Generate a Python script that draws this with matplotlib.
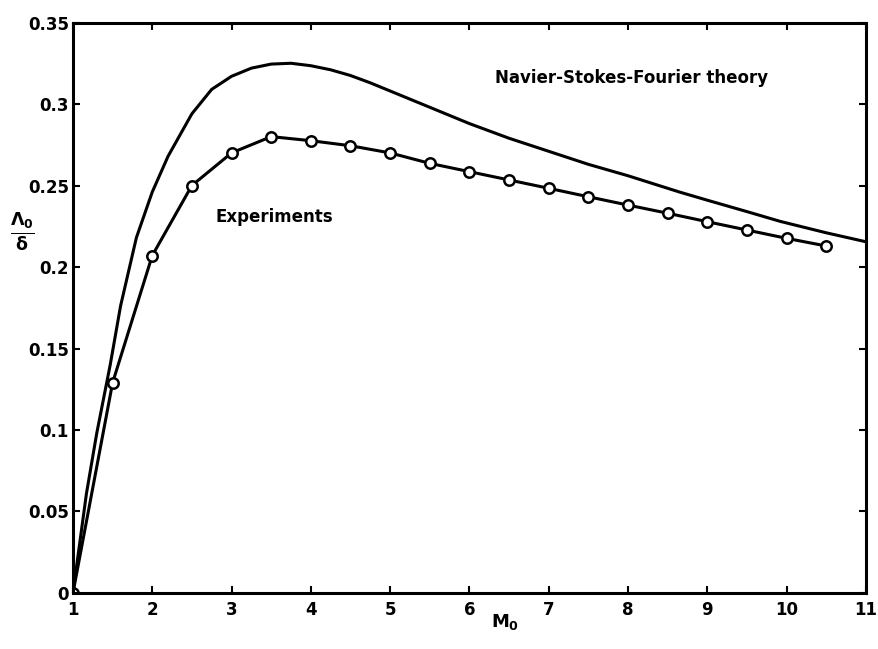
import matplotlib.pyplot as plt

plt.rcParams['font.family'] = ['DejaVu Sans']
plt.rcParams['font.weight'] = 'bold'
plt.rcParams['mathtext.fontset'] = 'custom'
plt.rcParams['mathtext.rm'] = 'DejaVu Sans:bold'
plt.rcParams['mathtext.it'] = 'DejaVu Sans:bold'
plt.rcParams['mathtext.bf'] = 'DejaVu Sans:bold'

# experiments (circles)
mach_exp = [1, 1.5, 2, 2.5, 3, 3.5, 4, 4.5, 5, 5.5, 6, 6.5, 7, 7.5, 8, 8.5, 9, 9.5, 10, 10.5]
lam_exp = [0, 0.129, 0.207, 0.250, 0.270, 0.280, 0.2775, 0.2744, 0.270, 0.2636, 0.2585,
           0.2534, 0.2483, 0.2431, 0.238, 0.233, 0.2278, 0.2227, 0.2176, 0.2129]

# Navier-Stokes-Fourier theory (solid line)
mach_nsf = [1.0, 1.17, 1.3, 1.47, 1.6, 1.8, 2.0, 2.2, 2.5, 2.75, 3.0, 3.25, 3.5, 3.75,
            4.0, 4.25, 4.5, 4.75, 5.0, 5.5, 6.0, 6.5, 7.0, 7.5, 8.0, 8.65, 9.0, 9.5,
            9.92, 10.5, 11.0]
lam_nsf = [0, 0.061, 0.098, 0.140, 0.176, 0.218, 0.246, 0.268, 0.294, 0.309, 0.317,
           0.322, 0.3245, 0.325, 0.3235, 0.321, 0.3175, 0.313, 0.308, 0.298, 0.288,
           0.279, 0.271, 0.263, 0.256, 0.246, 0.241, 0.234, 0.228, 0.221, 0.2155]

xticks = [1, 2, 3, 4, 5, 6, 7, 8, 9, 10, 11]
yticks = [0, 0.05, 0.1, 0.15, 0.2, 0.25, 0.3, 0.35]
ytick_labels = ["0", "0.05", "0.1", "0.15", "0.2", "0.25", "0.3", "0.35"]

fig = plt.figure(figsize=(8.79, 6.49), dpi=100)
ax = fig.add_axes([0.083, 0.0863, 0.902, 0.879])

ax.plot(mach_nsf, lam_nsf, color="black", lw=2.2)
ax.plot(mach_exp, lam_exp, color="black", lw=2.2, marker="o", markersize=7.5,
        markerfacecolor="white", markeredgecolor="black", markeredgewidth=1.8)

ax.set_xlim(1, 11)
ax.set_ylim(0, 0.35)
ax.set_xticks(xticks)
ax.set_xticklabels([str(t) for t in xticks], fontsize=12, fontweight="bold")
ax.set_yticks(yticks)
ax.set_yticklabels(ytick_labels, fontsize=12, fontweight="bold")
ax.tick_params(direction="in", length=5, width=1.5, top=True, right=True, pad=3)
ax.tick_params(axis="x", pad=6)
for s in ax.spines.values():
    s.set_linewidth(2.2)

ax.text(6.32, 0.316, "Navier-Stokes-Fourier theory", fontsize=12, fontweight="bold",
        va="center", ha="left")
ax.text(2.80, 0.2307, "Experiments", fontsize=12, fontweight="bold", va="center", ha="left")

ax.set_xlabel(r"$M_0$", fontsize=13, va="center")
ax.xaxis.set_label_coords(0.545, -0.051)
ax.set_ylabel(r"$\frac{\Lambda_0}{\delta}$", fontsize=18, rotation=0, va="center", ha="center")
ax.yaxis.set_label_coords(-0.064, 0.633)

fig.savefig("out.png", dpi=100)
